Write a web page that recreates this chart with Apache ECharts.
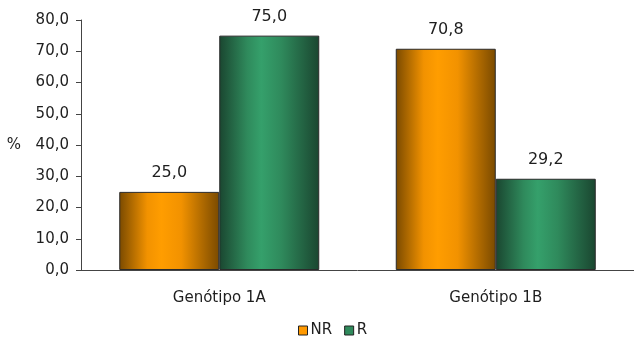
<!DOCTYPE html>
<html>
<head>
<meta charset="utf-8">
<script src="https://cdn.jsdelivr.net/npm/echarts@6/dist/echarts.min.js"></script>
<style>
  html, body { margin: 0; padding: 0; background: #fff; }
  #chart { width: 634px; height: 351px; }
</style>
</head>
<body>
<div id="chart"></div>
<script>
// Share of NR / R by genotype (%)
const categories = ['Genótipo 1A', 'Genótipo 1B'];
const seriesNames = ['NR', 'R'];
const valuesNR = [25.0, 70.8];
const valuesR = [75.0, 29.2];
const yTicks = [0, 10, 20, 30, 40, 50, 60, 70, 80];

const fmt = v => Number(v).toFixed(1).replace('.', ',');
const FONT = 'DejaVu Sans, Verdana, sans-serif';

// Horizontal shading that gives the bars a rounded, cylinder-like look
function cylinder(dark, mid, light) {
  return new echarts.graphic.LinearGradient(0, 0, 1, 0, [
    { offset: 0, color: dark },
    { offset: 0.28, color: mid },
    { offset: 0.42, color: light },
    { offset: 0.62, color: mid },
    { offset: 1, color: dark }
  ]);
}

const orangeFill = cylinder('#7a4a00', '#f29200', '#ff9d00');
const greenFill = cylinder('#1a4630', '#2f8a5c', '#35a06b');

const labelStyle = {
  show: true, position: 'top', distance: 11,
  fontFamily: FONT, fontSize: 16, color: '#1e1e1e',
  formatter: p => fmt(p.value)
};

const chart = echarts.init(document.getElementById('chart'));
chart.setOption({
  animation: false,
  textStyle: { fontFamily: FONT },
  grid: { left: 81, right: -4, top: 20, bottom: 81, containLabel: false },
  legend: {
    bottom: 8,
    left: 293,
    itemWidth: 9,
    itemHeight: 9,
    itemGap: 12,
    icon: 'rect',
    textStyle: { fontFamily: FONT, fontSize: 15, color: '#1e1e1e', padding: [0, 0, 0, -2] },
    data: [
      { name: 'NR', itemStyle: { color: '#ff9900', borderColor: '#222', borderWidth: 1 } },
      { name: 'R', itemStyle: { color: '#2f8a5c', borderColor: '#222', borderWidth: 1 } }
    ]
  },
  xAxis: {
    type: 'category',
    data: categories,
    axisLine: { lineStyle: { color: '#444', width: 1 } },
    axisTick: { show: false },
    axisLabel: { fontFamily: FONT, fontSize: 15, color: '#1e1e1e', margin: 21 }
  },
  yAxis: {
    type: 'value',
    min: 0,
    max: 80,
    interval: 10,
    name: '%',
    nameLocation: 'middle',
    nameRotate: 0,
    nameGap: 60,
    nameTextStyle: { fontFamily: FONT, fontSize: 15, color: '#1e1e1e' },
    axisLine: { show: true, lineStyle: { color: '#444', width: 1 } },
    axisTick: { show: true, length: 5, lineStyle: { color: '#444' } },
    splitLine: { show: false },
    axisLabel: {
      fontFamily: FONT,
      fontSize: 15,
      color: '#1e1e1e',
      margin: 12,
      formatter: v => yTicks.includes(v) ? fmt(v) : ''
    }
  },
  series: [
    {
      name: seriesNames[0],
      type: 'bar',
      data: valuesNR,
      barWidth: 100,
      barGap: '0%',
      itemStyle: { color: orangeFill, borderColor: '#2a2a2a', borderWidth: 1 },
      label: labelStyle
    },
    {
      name: seriesNames[1],
      type: 'bar',
      data: valuesR,
      barWidth: 100,
      barGap: '0%',
      itemStyle: { color: greenFill, borderColor: '#2a2a2a', borderWidth: 1 },
      label: labelStyle
    }
  ]
});
</script>
</body>
</html>
